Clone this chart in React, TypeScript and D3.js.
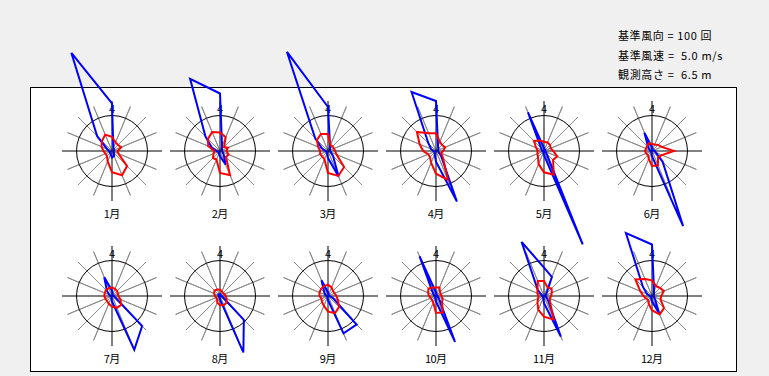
import React from 'react';
import * as d3 from 'd3';

const directions = ['N', 'NNE', 'NE', 'ENE', 'E', 'ESE', 'SE', 'SSE', 'S', 'SSW', 'SW', 'WSW', 'W', 'WNW', 'NW', 'NNW'];
const monthLabels = ['1月', '2月', '3月', '4月', '5月', '6月', '7月', '8月', '9月', '10月', '11月', '12月'];
const legendLines = ['基準風向 = 100 回', '基準風速 =  5.0 m/s', '観測高さ =  6.5 m'];
const refFreq = 100;
const refSpeed = 5.0;
const northMark = '4';

// wind direction frequency (counts), 16 directions clockwise from N
const freq01 = [134, 10, 8, 5, 5, 5, 8, 15, 18, 10, 8, 6, 8, 15, 59, 299];
const freq02 = [162, 15, 8, 6, 6, 8, 15, 42, 15, 8, 6, 6, 10, 25, 58, 220];
const freq03 = [124, 15, 8, 6, 6, 8, 20, 78, 20, 8, 5, 5, 8, 18, 51, 302];
const freq04 = [141, 15, 10, 6, 6, 8, 20, 154, 30, 10, 6, 5, 8, 15, 30, 180];
const freq05 = [8, 5, 4, 3, 3, 4, 10, 285, 12, 5, 3, 3, 4, 6, 12, 118];
const freq06 = [10, 5, 4, 5, 8, 12, 42, 229, 15, 5, 3, 3, 4, 6, 15, 56];
const freq07 = [15, 5, 4, 4, 5, 10, 120, 164, 15, 5, 3, 3, 4, 8, 20, 57];
const freq08 = [5, 4, 3, 3, 4, 8, 95, 172, 10, 4, 3, 3, 3, 4, 6, 6];
const freq09 = [10, 5, 4, 3, 4, 15, 114, 114, 12, 5, 3, 3, 4, 8, 15, 48];
const freq10 = [10, 5, 4, 3, 3, 5, 12, 140, 15, 5, 3, 3, 4, 6, 12, 121];
const freq11 = [80, 58, 10, 5, 4, 6, 15, 124, 20, 6, 4, 3, 4, 8, 25, 165];
const freq12 = [145, 15, 8, 5, 5, 6, 12, 53, 15, 6, 4, 4, 6, 15, 36, 192];

// mean wind speed (m/s)
const speed01 = [2.0, 1.3, 1.2, 1.4, 0.8, 1.0, 3.0, 3.7, 3.0, 1.6, 1.0, 1.0, 1.2, 1.6, 2.0, 2.5];
const speed02 = [2.6, 2.1, 0.8, 1.2, 0.9, 1.3, 1.2, 3.7, 3.1, 1.3, 1.4, 1.0, 0.8, 1.8, 2.4, 2.9];
const speed03 = [2.4, 0.9, 0.9, 0.9, 1.0, 1.3, 3.2, 3.8, 3.1, 1.3, 1.1, 1.2, 1.1, 1.5, 2.2, 2.6];
const speed04 = [2.5, 1.4, 1.2, 1.4, 1.0, 0.8, 1.4, 4.4, 3.2, 1.8, 1.2, 1.2, 1.8, 2.5, 3.8, 2.7];
const speed05 = [1.3, 1.3, 1.2, 1.0, 1.3, 2.0, 1.8, 3.6, 3.0, 2.0, 1.2, 1.0, 0.9, 1.2, 2.0, 1.6];
const speed06 = [1.0, 1.0, 1.2, 1.5, 3.1, 1.5, 1.2, 2.2, 2.1, 1.2, 0.8, 0.9, 1.0, 0.9, 1.0, 1.2];
const speed07 = [1.2, 1.1, 1.0, 0.9, 0.9, 1.3, 1.8, 1.8, 1.5, 1.2, 1.0, 1.0, 1.1, 1.1, 1.2, 1.2];
const speed08 = [0.9, 0.7, 0.6, 0.7, 0.8, 1.0, 1.3, 1.4, 1.3, 1.0, 0.6, 0.6, 0.7, 0.9, 1.1, 1.0];
const speed09 = [1.6, 1.3, 1.0, 1.0, 1.2, 1.5, 2.2, 2.6, 2.2, 1.5, 1.2, 1.0, 1.2, 1.3, 1.4, 1.5];
const speed10 = [1.2, 1.3, 0.8, 0.7, 0.8, 1.0, 1.2, 2.5, 2.4, 1.0, 0.8, 0.8, 1.0, 1.2, 1.5, 1.3];
const speed11 = [2.1, 1.3, 1.5, 1.2, 1.0, 0.9, 1.2, 3.6, 2.9, 2.1, 1.3, 0.9, 0.8, 1.0, 1.3, 2.3];
const speed12 = [2.2, 1.5, 1.6, 1.8, 1.3, 1.3, 2.4, 2.8, 2.0, 1.2, 0.8, 0.9, 1.2, 1.8, 3.3, 2.6];

const freqs = [freq01, freq02, freq03, freq04, freq05, freq06, freq07, freq08, freq09, freq10, freq11, freq12];
const speeds = [speed01, speed02, speed03, speed04, speed05, speed06, speed07, speed08, speed09, speed10, speed11, speed12];

// width of a string in a fixed-pitch (half/full width) font
function monoWidth(s: string, size: number): number {
  let w = 0;
  for (const ch of s) w += ch.charCodeAt(0) > 0x2000 ? size : size / 2;
  return w;
}

export default function App() {
  const W = 769;
  const H = 376;
  const R = 35.5;
  const font = '"Noto Sans CJK JP", "DejaVu Sans", sans-serif';
  const fs = 11;

  const rF = d3.scaleLinear().domain([0, refFreq]).range([0, R]);
  const rS = d3.scaleLinear().domain([0, refSpeed]).range([0, R]);
  const ang = d3.scaleLinear().domain([0, directions.length]).range([0, 2 * Math.PI]);
  const cx = d3.scaleLinear().domain([0, 5]).range([112, 652]);
  const cy = d3.scaleLinear().domain([0, 1]).range([151, 296]);

  const lineF = d3
    .lineRadial<number>()
    .angle((_d, i) => ang(i))
    .radius((d) => rF(d))
    .curve(d3.curveLinearClosed);
  const lineS = d3
    .lineRadial<number>()
    .angle((_d, i) => ang(i))
    .radius((d) => rS(d))
    .curve(d3.curveLinearClosed);

  const spokeLen = 48;
  const axisLen = 50;

  return (
    <svg
      width={W}
      height={H}
      style={{ position: 'fixed', left: 0, top: 0, background: '#f0f0f0' }}
    >
      <rect x={0} y={0} width={W} height={H} fill="#f0f0f0" />
      <rect x={30.5} y={87.5} width={706} height={284} fill="#ffffff" stroke="#000" strokeWidth={1} />
      {legendLines.map((t, i) => (
        <text
          key={t}
          x={618}
          y={40 + i * 19.5}
          fontFamily={font}
          fontSize={fs}
          fill="#000"
          textLength={monoWidth(t, fs)}
          lengthAdjust="spacing"
          style={{ whiteSpace: 'pre' }}
        >
          {t}
        </text>
      ))}
      {monthLabels.map((m, k) => {
        const col = k % 6;
        const row = Math.floor(k / 6);
        const x = cx(col);
        const y = cy(row);
        const mw = monoWidth(m, fs);
        return (
          <g key={m} transform={`translate(${x},${y})`}>
            {directions.map((d, i) => {
              if (i % 4 === 0) return null;
              const a = ang(i);
              return (
                <line
                  key={d}
                  x1={-Math.sin(a) * spokeLen}
                  y1={Math.cos(a) * spokeLen}
                  x2={Math.sin(a) * spokeLen}
                  y2={-Math.cos(a) * spokeLen}
                  stroke="#8c8c8c"
                  strokeWidth={1}
                />
              );
            })}
            <circle r={R} fill="none" stroke="#000" strokeWidth={1} />
            <line x1={-axisLen} y1={0} x2={axisLen} y2={0} stroke="#000" strokeWidth={1} />
            <line x1={0} y1={-axisLen} x2={0} y2={axisLen} stroke="#000" strokeWidth={1} />
            <text x={0} y={-38} textAnchor="middle" fontFamily={font} fontSize={11} fill="#000">
              {northMark}
            </text>
            <path d={lineF(freqs[k]) || ''} fill="none" stroke="#0000ff" strokeWidth={2} strokeLinejoin="miter" />
            <path d={lineS(speeds[k]) || ''} fill="none" stroke="#ff0000" strokeWidth={2} strokeLinejoin="miter" />
            <text
              x={-mw / 2}
              y={67}
              fontFamily={font}
              fontSize={fs}
              fill="#000"
              textLength={mw}
              lengthAdjust="spacing"
            >
              {m}
            </text>
          </g>
        );
      })}
    </svg>
  );
}
